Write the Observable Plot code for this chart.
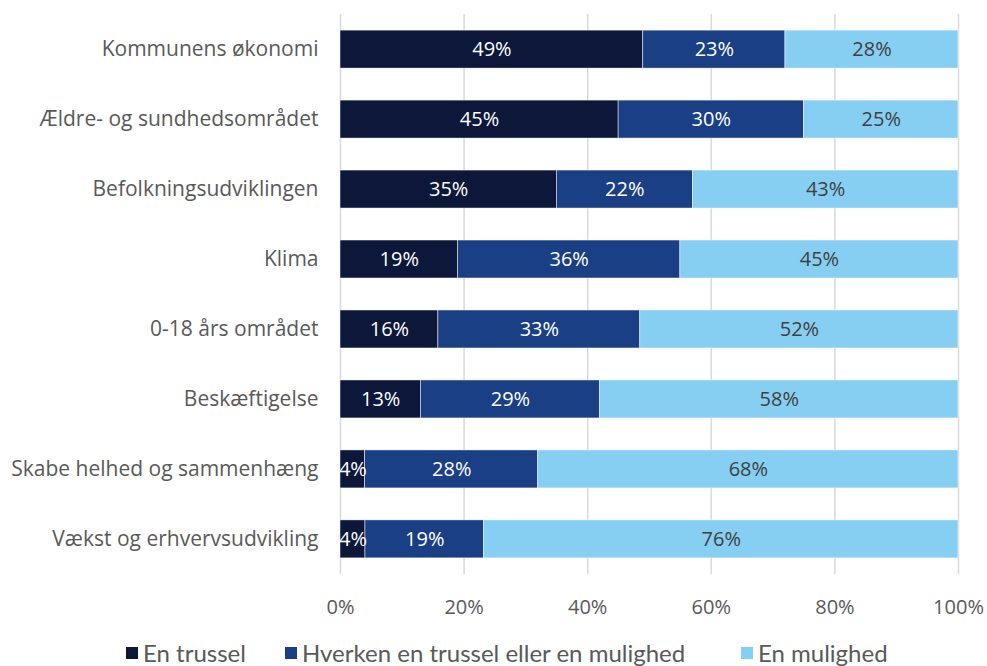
<!DOCTYPE html>
<html>
<head>
<meta charset="utf-8">
<script src="https://cdn.jsdelivr.net/npm/d3@7"></script>
<script src="https://cdn.jsdelivr.net/npm/@observablehq/plot@0.6"></script>
<style>
  body { margin: 0; background: #fff; }
  #chart { width: 987px; }
  .legend { font-family: Lato, "Open Sans", sans-serif; font-size: 24px; color: #595959; }
  .legend span.item { display: inline-flex; align-items: center; position: absolute; white-space: nowrap; }
  .legend i { display: inline-block; width: 12px; height: 12px; margin-right: 5px; }
</style>
</head>
<body>
<div id="chart"></div>
<script>
const categories = [
  "Kommunens økonomi",
  "Ældre- og sundhedsområdet",
  "Befolkningsudviklingen",
  "Klima",
  "0-18 års området",
  "Beskæftigelse",
  "Skabe helhed og sammenhæng",
  "Vækst og erhvervsudvikling"
];
const seriesNames = ["En trussel", "Hverken en trussel eller en mulighed", "En mulighed"];
const trussel   = [49, 45, 35, 19, 16, 13, 4, 4];
const hverken   = [23, 30, 22, 36, 33, 29, 28, 19];
const mulighed  = [28, 25, 43, 45, 52, 58, 68, 76];
const colors = ["#0c1739", "#1a3f85", "#87cef3"];
const textColors = ["#ffffff", "#ffffff", "#404040"];
const xTicks = [0, 0.2, 0.4, 0.6, 0.8, 1];

const seriesValues = [trussel, hverken, mulighed];
const data = [];
categories.forEach((c, i) => {
  seriesNames.forEach((s, j) => {
    data.push({cat: c, series: s, value: seriesValues[j][i], si: j});
  });
});

const chart = Plot.plot({
  width: 987,
  height: 630,
  marginLeft: 340,
  marginRight: 29,
  marginTop: 14,
  marginBottom: 56,
  style: {fontFamily: "'Open Sans', sans-serif", fontSize: "20px", color: "#595959", background: "#fff"},
  x: {domain: [0, 1], label: null},
  y: {domain: categories, paddingInner: 0.457, paddingOuter: 0.23, round: false, label: null},
  color: {domain: seriesNames, range: colors},
  marks: [
    Plot.ruleX(xTicks, {stroke: "#d9d9d9", strokeWidth: 1.5}),
    Plot.axisX({ticks: xTicks, tickFormat: d => Math.round(d * 100) + "%", tickSize: 0, tickPadding: 25, fontSize: 20, label: null}),
    Plot.axisY({tickSize: 0, tickPadding: 22, fontSize: 21, label: null}),
    Plot.barX(data, Plot.stackX({x: "value", y: "cat", fill: "series", z: "series", offset: "normalize", stroke: "#fff", strokeWidth: 0.5})),
    Plot.textX(data, Plot.stackX({x: "value", y: "cat", z: "series", offset: "normalize", text: d => d.value + "%", fill: d => textColors[d.si], fontSize: 20}))
  ]
});
document.getElementById("chart").appendChild(chart);

const legend = document.createElement("div");
legend.className = "legend";
legend.style.position = "relative";
legend.style.height = "30px";
legend.style.marginTop = "8px";
const lx = [126, 285, 741];
seriesNames.forEach((s, j) => {
  const it = document.createElement("span");
  it.className = "item";
  it.style.left = lx[j] + "px";
  it.innerHTML = `<i style="background:${colors[j]}"></i>${s}`;
  legend.appendChild(it);
});
document.body.appendChild(legend);
</script>
</body>
</html>
